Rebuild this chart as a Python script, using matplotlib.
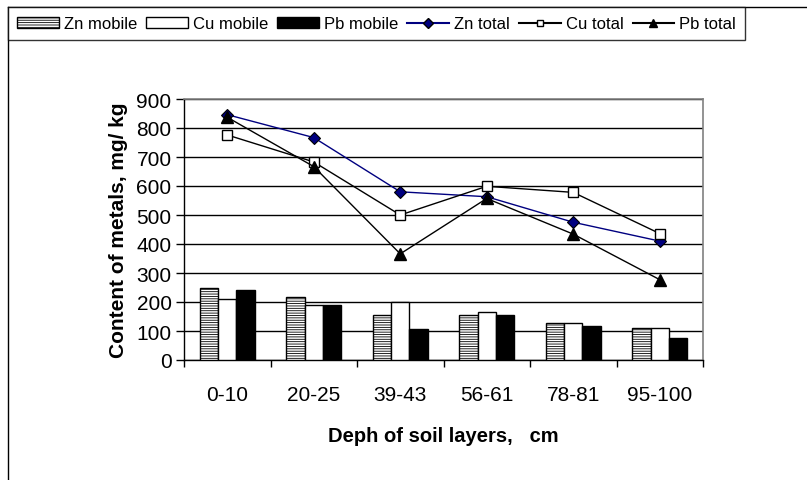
import numpy as np
import matplotlib
matplotlib.use('Agg')
import matplotlib.pyplot as plt
from matplotlib.lines import Line2D
from matplotlib.patches import Patch

plt.rcParams['font.family'] = ['Liberation Sans', 'DejaVu Sans']
plt.rcParams['hatch.linewidth'] = 0.6

depths = ['0-10', '20-25', '39-43', '56-61', '78-81', '95-100']

zn_mobile = [249, 216, 155, 155, 128, 111]
cu_mobile = [211, 189, 201, 166, 128, 111]
pb_mobile = [240, 191, 107, 156, 118, 75]

zn_total = [846, 767, 580, 563, 475, 410]
cu_total = [776, 683, 500, 599, 578, 436]
pb_total = [837, 667, 366, 557, 434, 277]

W, H = 807, 481
fig = plt.figure(figsize=(W / 100, H / 100), dpi=100)

# plot area in pixel coordinates
left, right, top, bottom = 184, 703, 100, 361
ax = fig.add_axes([left / W, 1 - bottom / H, (right - left) / W, (bottom - top) / H])

x = np.arange(len(depths))
bw = 0.212
ax.bar(x - bw, zn_mobile, bw, color='white', edgecolor='black', hatch='-------', linewidth=1, zorder=3)
ax.bar(x, cu_mobile, bw, color='white', edgecolor='black', linewidth=1, zorder=3)
ax.bar(x + bw, pb_mobile, bw, color='black', edgecolor='black', linewidth=1, zorder=3)

ax.plot(x, zn_total, color='#000080', lw=1, marker='D', ms=6, mfc='#000080', mec='black', mew=0.8, zorder=5)
ax.plot(x, cu_total, color='black', lw=1, marker='s', ms=7, mfc='white', mec='black', mew=1, zorder=5)
ax.plot(x, pb_total, color='black', lw=1, marker='^', ms=8, mfc='black', mec='black', zorder=5)

ax.set_xlim(-0.5, len(depths) - 0.5)
ax.set_ylim(0, 900)
ax.set_yticks(np.arange(0, 901, 100))
ax.yaxis.grid(True, color='black', lw=1)
ax.set_axisbelow(True)

# category ticks sit between groups, labels centred under each group
ax.set_xticks(np.arange(-0.5, len(depths), 1.0))
ax.set_xticklabels([])
ax.set_xticks(x, minor=True)
ax.set_xticklabels(depths, minor=True)
ax.tick_params(axis='x', which='minor', length=0, pad=18, labelsize=15)
ax.tick_params(axis='x', which='major', direction='out', length=5, width=1)
ax.tick_params(axis='y', direction='out', length=6, width=1, labelsize=15, pad=3)

for side in ['top', 'right']:
    ax.spines[side].set_color('#808080')
    ax.spines[side].set_linewidth(1.2)
for side in ['left', 'bottom']:
    ax.spines[side].set_color('black')
    ax.spines[side].set_linewidth(1)

ax.set_ylabel('Content of metals, mg/ kg', fontsize=15, fontweight='bold', labelpad=6)
ax.set_xlabel('Deph of soil layers,   cm', fontsize=14.5, fontweight='bold', labelpad=16)

handles = [
    Patch(facecolor='white', edgecolor='black', hatch='-------', label='Zn mobile'),
    Patch(facecolor='white', edgecolor='black', label='Cu mobile'),
    Patch(facecolor='black', edgecolor='black', label='Pb mobile'),
    Line2D([], [], color='#000080', marker='D', ms=5, mfc='#000080', mec='black', label='Zn total'),
    Line2D([], [], color='black', marker='s', ms=5, mfc='white', mec='black', label='Cu total'),
    Line2D([], [], color='black', marker='^', ms=6, mfc='black', mec='black', label='Pb total'),
]
leg = fig.legend(handles=handles, loc='upper left', bbox_to_anchor=(8 / W, 1 - 8 / H), ncol=6,
                 fontsize=12, frameon=True, fancybox=False, edgecolor='black',
                 handlelength=2.5, handleheight=0.6, handletextpad=0.3, columnspacing=0.55,
                 borderpad=0.55, borderaxespad=0)
leg.get_frame().set_linewidth(1)

# outer chart border (partly visible)
fig.add_artist(Line2D([8 / W, 8 / W], [0, 1 - 8 / H], color='black', lw=1, transform=fig.transFigure, zorder=0))
fig.add_artist(Line2D([8 / W, 1], [1 - 8 / H, 1 - 8 / H], color='black', lw=1, transform=fig.transFigure, zorder=0))

fig.savefig('out.png', dpi=100)
